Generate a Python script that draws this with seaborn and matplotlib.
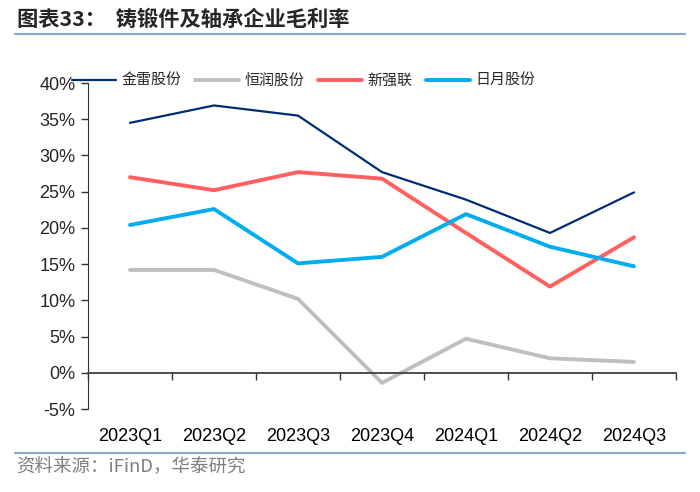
"""
Gross margin of forging and bearing companies, 2023Q1-2024Q3
Outputs out.png
"""

import matplotlib.pyplot as plt
import matplotlib.ticker as mticker
import pandas as pd
import seaborn as sns

quarters = ['2023Q1', '2023Q2', '2023Q3', '2023Q4',
            '2024Q1', '2024Q2', '2024Q3']
jinlei = [34.5, 36.9, 35.5, 27.7, 23.9, 19.3, 24.9]
hengrun = [14.2, 14.2, 10.2, -1.4, 4.7, 2.0, 1.5]
xinqianglian = [27.0, 25.2, 27.7, 26.8, 19.3, 11.9, 18.7]
riyue = [20.4, 22.6, 15.1, 16.0, 21.9, 17.4, 14.7]

series_names = ['金雷股份', '恒润股份', '新强联', '日月股份']
series_values = [jinlei, hengrun, xinqianglian, riyue]
colors = ['#002D72', '#BFBFBF', '#FF5F5F', '#00AEEF']
widths = [1.6, 2.8, 2.8, 2.8]

CJK = ['Noto Sans CJK SC', 'DejaVu Sans']

sns.set_style('white')
plt.rcParams['font.family'] = ['Liberation Sans', 'Noto Sans CJK SC']
plt.rcParams['axes.unicode_minus'] = False


def main():
    fig = plt.figure(figsize=(7, 4.92), dpi=100)
    ax = fig.add_axes([88 / 700, 1 - 409 / 492, 588 / 700, 326 / 492])

    for name, vals, c, lw in zip(series_names, series_values, colors, widths):
        df = pd.DataFrame({'quarter': quarters, 'value': vals})
        sns.lineplot(data=df, x='quarter', y='value', color=c, linewidth=lw,
                     label=name, ax=ax, sort=False)

    ax.set_xlim(-0.5, len(quarters) - 0.5)
    ax.set_ylim(-5, 40)
    ax.yaxis.set_major_locator(mticker.MultipleLocator(5))
    ax.yaxis.set_major_formatter(mticker.FuncFormatter(lambda v, p: f'{v:.0f}%'))
    ax.set_xlabel('')
    ax.set_ylabel('')

    for s in ['top', 'right']:
        ax.spines[s].set_visible(False)
    ax.spines['left'].set_color('#333333')
    ax.spines['bottom'].set_color('#404040')
    ax.spines['bottom'].set_linewidth(1.3)
    ax.spines['bottom'].set_position(('data', 0))

    ax.set_xticks(range(len(quarters)))
    ax.set_xticklabels(quarters)
    ax.set_xticks([i - 0.5 for i in range(len(quarters) + 1)], minor=True)
    ax.tick_params(axis='x', which='major', length=0, pad=40, labelsize=13,
                   colors='#000000')
    ax.tick_params(axis='x', which='minor', length=5, width=1, color='#333333',
                   direction='out', bottom=True)
    ax.tick_params(axis='y', length=5, width=1, color='#333333', left=True,
                   direction='out', labelsize=13, pad=4)

    handles, labels = ax.get_legend_handles_labels()
    ax.legend(handles, labels, loc='center', ncol=4, frameon=False,
              bbox_to_anchor=(304 / 700, 1 - 81 / 492),
              bbox_transform=fig.transFigure, prop={'family': CJK, 'size': 10.8},
              handlelength=2.9, handletextpad=0.4, columnspacing=0.9,
              borderpad=0, borderaxespad=0)

    fig.text(17 / 700, 1 - 19 / 492, '图表33：  铸锻件及轴承企业毛利率',
             family=CJK, fontsize=15.3, fontweight='bold', va='center')
    fig.add_artist(plt.Line2D([15 / 700, 685 / 700], [1 - 34 / 492] * 2,
                              color='#8EA9C8', linewidth=1.6))
    fig.add_artist(plt.Line2D([15 / 700, 685 / 700], [1 - 453 / 492] * 2,
                              color='#8EA9C8', linewidth=1.6))
    fig.text(16 / 700, 1 - 467 / 492, '资料来源：iFinD，华泰研究',
             family=CJK, fontsize=13.3, color='#7F7F7F', va='center')

    fig.savefig('out.png', dpi=100)


if __name__ == '__main__':
    main()
